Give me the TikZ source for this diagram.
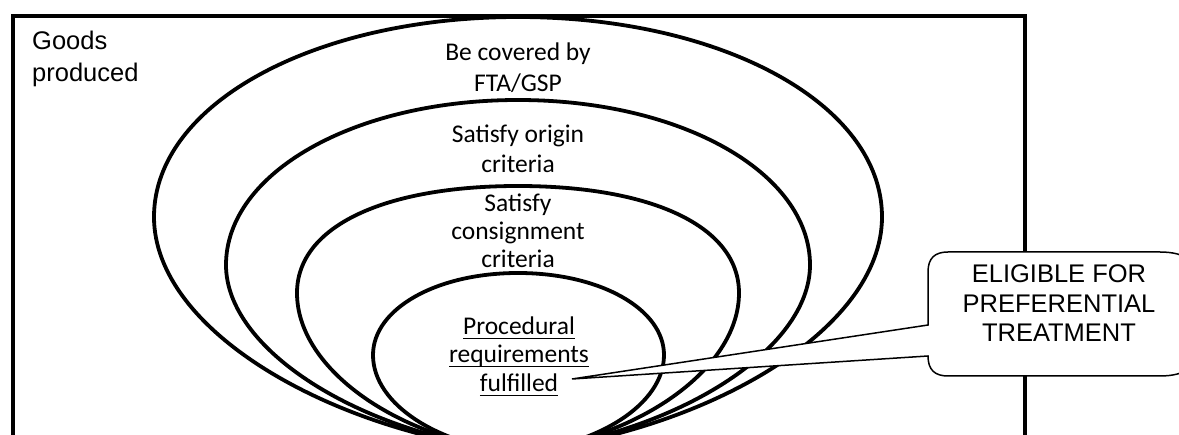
\documentclass[tikz,border=0pt]{standalone}
\usepackage{fontspec}
\setmainfont{Liberation Sans}
\newfontfamily\calib{Carlito}
\newcommand\ultext[1]{\setbox0\hbox{#1}\rlap{\rule[-4.5pt]{\wd0}{1.4pt}}\box0}
\begin{document}
\begin{tikzpicture}[x=1pt,y=-1pt,
  frame/.style={line width=3.5pt},
  oval/.style={line width=3.8pt, line join=round},
  callout/.style={line width=1.5pt, fill=white, line join=miter},
  sanstxt/.style={font=\fontsize{25.5}{30}\selectfont, inner sep=0pt},
  ovaltxt/.style={font=\calib\fontsize{25.5}{30}\selectfont, inner sep=0pt, anchor=base}]
\useasboundingbox (0,0) rectangle (1179,435);
\clip (0,0) rectangle (1179,435);
% outer frame
\draw[frame] (13,470) -- (13,16) -- (1025,16) -- (1025,470);
% bottom tip coordinate
\coordinate (B) at (518,452);
% oval 1
\draw[oval] (B) .. controls (330,432) and (154,330) .. (154,217)
  .. controls (154,104) and (314,17) .. (518,17)
  .. controls (722,17) and (882,104) .. (882,217)
  .. controls (882,330) and (706,432) .. (B);
% oval 2
\draw[oval] (B) .. controls (360,434) and (226,350) .. (226,265)
  .. controls (226,173) and (354,100) .. (518,100)
  .. controls (682,100) and (810,173) .. (810,265)
  .. controls (810,350) and (676,434) .. (B);
% oval 3
\draw[oval] (B) .. controls (400,440) and (297,370) .. (297,293)
  .. controls (297,226) and (385,186) .. (518,186)
  .. controls (651,186) and (739,226) .. (739,293)
  .. controls (739,370) and (636,440) .. (B);
% oval 4
\draw[oval] (B) .. controls (440,446) and (373,405) .. (373,355)
  .. controls (373,309) and (436,273) .. (518,273)
  .. controls (600,273) and (664,309) .. (664,355)
  .. controls (664,405) and (596,446) .. (B);
% callout
\coordinate (tip) at (572,379);
\draw[callout] (928,325) -- (tip) -- (928,356)
  .. controls (928,370) and (935,376) .. (948,376)
  -- (1160,376) .. controls (1185,376) and (1200,366) .. (1200,348)
  -- (1200,280) .. controls (1200,262) and (1185,252) .. (1160,252)
  -- (948,252) .. controls (935,252) and (928,258) .. (928,272) -- cycle;
% texts
\node[sanstxt, anchor=base west] (g1) at (32,50) {Goods};
\node[sanstxt, anchor=base west] (g2) at (32,82) {produced};
\node[ovaltxt] (a1) at (518,61) {Be covered by};
\node[ovaltxt] (a2) at (518,92) {FTA/GSP};
\node[ovaltxt] (b1) at (518,143) {Satisfy origin};
\node[ovaltxt] (b2) at (518,173) {criteria};
\node[ovaltxt] (c1) at (518,212) {Satisfy};
\node[ovaltxt] (c2) at (518,240) {consignment};
\node[ovaltxt] (c3) at (518,268) {criteria};
\node[ovaltxt] (d1) at (519,335) {\ultext{Procedural}};
\node[ovaltxt] (d2) at (519,363) {\ultext{requirements}};
\node[ovaltxt] (d3) at (519,392) {\ultext{fulfilled}};
\node[sanstxt, anchor=base] (e1) at (1059,283) {ELIGIBLE FOR};
\node[sanstxt, anchor=base] (e2) at (1059,313) {PREFERENTIAL};
\node[sanstxt, anchor=base] (e3) at (1059,342) {TREATMENT};
\end{tikzpicture}
\end{document}
